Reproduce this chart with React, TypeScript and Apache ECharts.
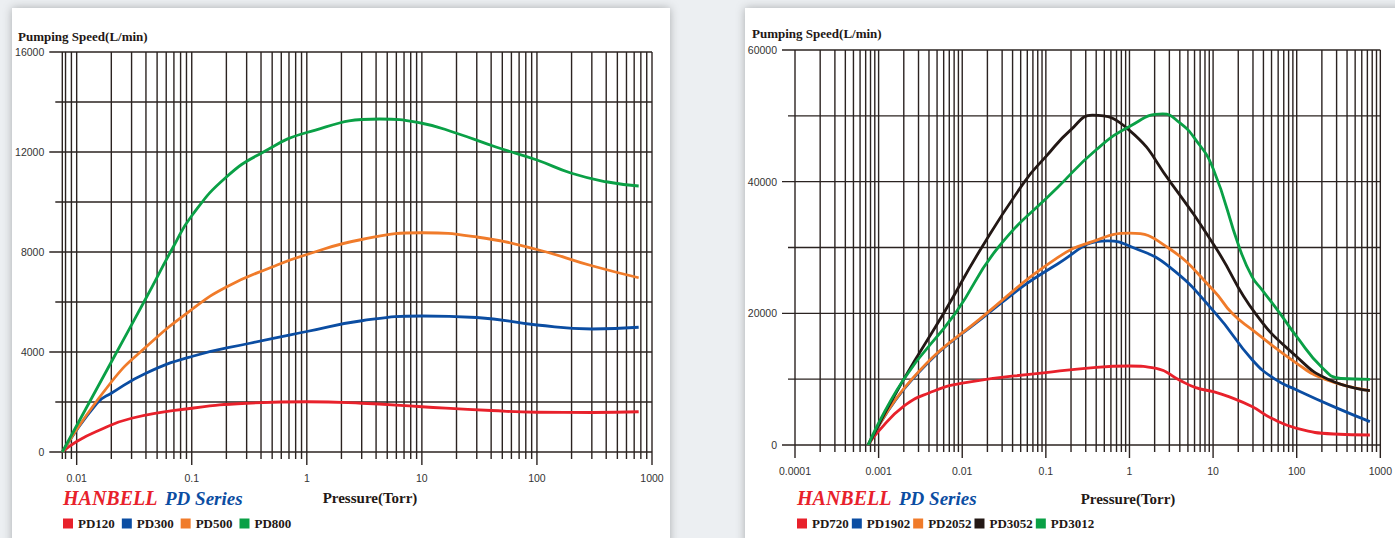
import React, { useEffect, useRef } from "react";
import * as echarts from "echarts";

// ---------- Left chart data (Pressure Torr, L/min) ----------
const PD120 = [[0.0075, 0], [0.01, 420], [0.015, 830], [0.03, 1350], [0.1, 1750], [0.3, 1950], [1, 2010], [3, 1950], [10, 1810], [40, 1660], [100, 1590], [300, 1580], [766, 1610]];
const PD300 = [[0.0075, 0], [0.015, 1950], [0.02, 2350], [0.04, 3150], [0.1, 3820], [0.32, 4350], [1, 4820], [3, 5250], [10, 5440], [30, 5380], [100, 5080], [300, 4920], [766, 4990]];
const PD500 = [[0.0075, 0], [0.02, 2800], [0.04, 4200], [0.1, 5700], [0.2, 6600], [0.5, 7400], [1, 7900], [3, 8500], [10, 8770], [30, 8600], [100, 8100], [300, 7450], [766, 6970]];
const PD800 = [[0.0075, 0], [0.02, 3600], [0.04, 6150], [0.07, 8250], [0.1, 9450], [0.2, 11000], [0.42, 12000], [1, 12780], [4.3, 13320], [10, 13150], [20, 12750], [44, 12200], [100, 11680], [200, 11150], [400, 10810], [766, 10640]];

// ---------- Right chart data ----------
const PD720 = [[0.00075, 0], [0.001, 2100], [0.002, 5900], [0.004, 7900], [0.01, 9400], [0.1, 11000], [0.4, 11800], [1, 12000], [2.09, 11650], [3.94, 9880], [6.2, 8710], [10, 8100], [15.4, 7340], [29.2, 5830], [50, 4050], [100, 2530], [276, 1670], [750, 1520]];
const PD1902 = [[0.00075, 0], [0.0025, 9900], [0.0196, 19800], [0.138, 27500], [0.55, 31000], [1.1, 30000], [2.98, 27100], [10.7, 20000], [29.5, 12920], [55, 10000], [100, 8360], [276, 5830], [750, 3550]];
const PD2052 = [[0.00075, 0], [0.0025, 10000], [0.0196, 20000], [0.138, 28450], [0.36, 30900], [1, 32170], [2.87, 30000], [10, 23560], [16.9, 20000], [29.5, 17480], [100, 12410], [216, 10000], [750, 8260]];
const PD3052 = [[0.00075, 0], [0.002, 10000], [0.006, 20000], [0.0171, 30000], [0.0557, 40000], [0.1, 43800], [0.2, 47900], [0.36, 50100], [1, 47800], [3.06, 40000], [10.7, 30000], [32, 20000], [100, 13400], [236, 10000], [750, 8260]];
const PD3012 = [[0.00075, 0], [0.002, 10000], [0.00826, 20000], [0.0269, 30000], [0.138, 39100], [0.4, 44840], [1, 48390], [2.5, 50300], [3.94, 49000], [6.2, 46360], [10, 42000], [20.6, 30000], [29.2, 25580], [38.5, 23560], [63, 20000], [100, 16460], [197, 11900], [338, 10100], [750, 9980]];

// ---------- Axis / tick values ----------
const LEFT_X_MIN = 0.0075;
const LEFT_X_MAX = 1000;
const RIGHT_X_MIN = 0.0001;
const RIGHT_X_MAX = 1000;
const LEFT_Y_GRID = [0, 2000, 4000, 6000, 8000, 10000, 12000, 14000, 16000];
const LEFT_Y_LABEL_STEP = 4000;
const RIGHT_Y_GRID = [0, 10000, 20000, 30000, 40000, 50000, 60000];
const RIGHT_Y_LABEL_STEP = 20000;
const MULTIPLIERS = [1, 2, 3, 4, 5, 6, 7, 8, 9];

const LEFT_NAMES = ["PD120", "PD300", "PD500", "PD800"];
const RIGHT_NAMES = ["PD720", "PD1902", "PD2052", "PD3052", "PD3012"];

const RED = "#e8212b";
const BLUE = "#0b4da2";
const ORANGE = "#f07b2a";
const GREEN = "#0aa046";
const BLACK = "#231815";
const GRID_COLOR = "#2b2321";

function decadeLines(fromExp: number, toExp: number): number[] {
  const out: number[] = [];
  for (let e = fromExp; e < toExp; e++) {
    for (const m of MULTIPLIERS) out.push(+(m * Math.pow(10, e)).toPrecision(6));
  }
  out.push(+Math.pow(10, toExp).toPrecision(6));
  return out;
}

const LEFT_X_GRID = [0.0075, 0.008, 0.009, ...decadeLines(-2, 3)];
const RIGHT_X_GRID = decadeLines(-4, 3);

const isMajor = (v: number) => {
  const l = Math.log10(v);
  return Math.abs(l - Math.round(l)) < 1e-9;
};

function vGrid(xs: number[], yMax: number, idx: number) {
  return {
    type: "custom",
    xAxisIndex: idx,
    yAxisIndex: idx,
    silent: true,
    z: 1,
    clip: false,
    data: xs.map((v) => [v, 0]),
    encode: { x: 0, y: 1 },
    renderItem: (_p: any, api: any) => {
      const x = api.value(0);
      const top = api.coord([x, yMax]);
      const bot = api.coord([x, 0]);
      return {
        type: "line",
        shape: { x1: top[0], y1: top[1], x2: bot[0], y2: bot[1] + (isMajor(x) ? 13 : 7) },
        style: { stroke: GRID_COLOR, lineWidth: 1.4 },
      };
    },
  };
}

function hGrid(ys: number[], step: number, xMin: number, xMax: number, idx: number) {
  return {
    type: "custom",
    xAxisIndex: idx,
    yAxisIndex: idx,
    silent: true,
    z: 1,
    clip: false,
    data: ys.map((v) => [xMin, v]),
    encode: { x: 0, y: 1 },
    renderItem: (_p: any, api: any) => {
      const y = api.value(1);
      const l = api.coord([xMin, y]);
      const r = api.coord([xMax, y]);
      const ext = y % step === 0 ? 13 : 7;
      return {
        type: "line",
        shape: { x1: l[0] - ext, y1: l[1], x2: r[0], y2: r[1] },
        style: { stroke: GRID_COLOR, lineWidth: 1.4 },
      };
    },
  };
}

function curve(name: string, data: number[][], color: string, idx: number) {
  return {
    type: "line",
    name,
    xAxisIndex: idx,
    yAxisIndex: idx,
    data,
    smooth: 0.5,
    symbol: "none",
    color,
    z: 5,
    lineStyle: { color, width: 2.8 },
  };
}

const fmt = (v: number) => String(+Number(v).toPrecision(6));

const tickLabel = {
  fontFamily: "Liberation Sans",
  fontSize: 10.5,
  color: "#333333",
};

const serifBold = (size: number, color: string, italic = false) => ({
  fontFamily: "Liberation Serif",
  fontWeight: "bold",
  fontStyle: italic ? "italic" : "normal",
  fontSize: size,
  fill: color,
});

export default function App() {
  const ref = useRef<HTMLDivElement>(null);
  useEffect(() => {
    document.body.style.margin = "0";
    if (!ref.current) return;
    const chart = echarts.init(ref.current, undefined, { renderer: "svg" });
    const option: any = {
      animation: false,
      backgroundColor: "#eceff2",
      graphic: [
        { type: "rect", shape: { x: 12, y: 8, width: 658, height: 540 }, style: { fill: "#ffffff", shadowBlur: 10, shadowColor: "rgba(0,0,0,0.28)" }, z: -10 },
        { type: "rect", shape: { x: 745, y: 8, width: 680, height: 540 }, style: { fill: "#ffffff", shadowBlur: 10, shadowColor: "rgba(0,0,0,0.28)" }, z: -10 },
        { type: "text", x: 18, y: 36, style: { text: "Pumping Speed(L/min)", ...serifBold(13, BLACK), verticalAlign: "middle" } },
        { type: "text", x: 752, y: 33, style: { text: "Pumping Speed(L/min)", ...serifBold(13, BLACK), verticalAlign: "middle" } },
        { type: "text", x: 63, y: 498, style: { text: "HANBELL", ...serifBold(20, RED, true), verticalAlign: "middle" } },
        { type: "text", x: 165, y: 498, style: { text: "PD Series", ...serifBold(19, BLUE, true), verticalAlign: "middle" } },
        { type: "text", x: 797, y: 498, style: { text: "HANBELL", ...serifBold(20, RED, true), verticalAlign: "middle" } },
        { type: "text", x: 899, y: 498, style: { text: "PD Series", ...serifBold(19, BLUE, true), verticalAlign: "middle" } },
        { type: "text", x: 370, y: 498, style: { text: "Pressure(Torr)", ...serifBold(15, BLACK), align: "center", verticalAlign: "middle" } },
        { type: "text", x: 1128, y: 499, style: { text: "Pressure(Torr)", ...serifBold(15, BLACK), align: "center", verticalAlign: "middle" } },
      ],
      legend: [
        {
          data: LEFT_NAMES, left: 63, top: 517, padding: 0, itemWidth: 10, itemHeight: 10, itemGap: 7, icon: "rect",
          textStyle: { fontFamily: "Liberation Serif", fontWeight: "bold", fontSize: 13, color: BLACK },
        },
        {
          data: RIGHT_NAMES, left: 797, top: 517, padding: 0, itemWidth: 10, itemHeight: 10, itemGap: 3, icon: "rect",
          textStyle: { fontFamily: "Liberation Serif", fontWeight: "bold", fontSize: 13, color: BLACK },
        },
      ],
      grid: [
        { left: 62.3, top: 52, width: 589.7, height: 400 },
        { left: 795, top: 50, width: 591, height: 395 },
      ],
      xAxis: [
        {
          type: "log", logBase: 10, gridIndex: 0, min: LEFT_X_MIN, max: LEFT_X_MAX,
          axisLine: { show: false }, axisTick: { show: false }, splitLine: { show: false },
          axisLabel: { ...tickLabel, margin: 20, showMinLabel: false, formatter: fmt },
        },
        {
          type: "log", logBase: 10, gridIndex: 1, min: RIGHT_X_MIN, max: RIGHT_X_MAX,
          axisLine: { show: false }, axisTick: { show: false }, splitLine: { show: false },
          axisLabel: { ...tickLabel, margin: 20, showMinLabel: true, formatter: fmt },
        },
      ],
      yAxis: [
        {
          type: "value", gridIndex: 0, min: 0, max: LEFT_Y_GRID[LEFT_Y_GRID.length - 1], interval: LEFT_Y_LABEL_STEP,
          axisLine: { show: false }, axisTick: { show: false }, splitLine: { show: false },
          axisLabel: { ...tickLabel, margin: 18, formatter: fmt },
        },
        {
          type: "value", gridIndex: 1, min: 0, max: RIGHT_Y_GRID[RIGHT_Y_GRID.length - 1], interval: RIGHT_Y_LABEL_STEP,
          axisLine: { show: false }, axisTick: { show: false }, splitLine: { show: false },
          axisLabel: { ...tickLabel, margin: 18, formatter: fmt },
        },
      ],
      series: [
        vGrid(LEFT_X_GRID, LEFT_Y_GRID[LEFT_Y_GRID.length - 1], 0),
        hGrid(LEFT_Y_GRID, LEFT_Y_LABEL_STEP, LEFT_X_MIN, LEFT_X_MAX, 0),
        vGrid(RIGHT_X_GRID, RIGHT_Y_GRID[RIGHT_Y_GRID.length - 1], 1),
        hGrid(RIGHT_Y_GRID, RIGHT_Y_LABEL_STEP, RIGHT_X_MIN, RIGHT_X_MAX, 1),
        curve("PD120", PD120, RED, 0),
        curve("PD300", PD300, BLUE, 0),
        curve("PD500", PD500, ORANGE, 0),
        curve("PD800", PD800, GREEN, 0),
        curve("PD720", PD720, RED, 1),
        curve("PD1902", PD1902, BLUE, 1),
        curve("PD2052", PD2052, ORANGE, 1),
        curve("PD3052", PD3052, BLACK, 1),
        curve("PD3012", PD3012, GREEN, 1),
      ],
    };
    chart.setOption(option);
    return () => chart.dispose();
  }, []);
  return <div ref={ref} style={{ position: "absolute", left: 0, top: 0, width: 1395, height: 538 }} />;
}
